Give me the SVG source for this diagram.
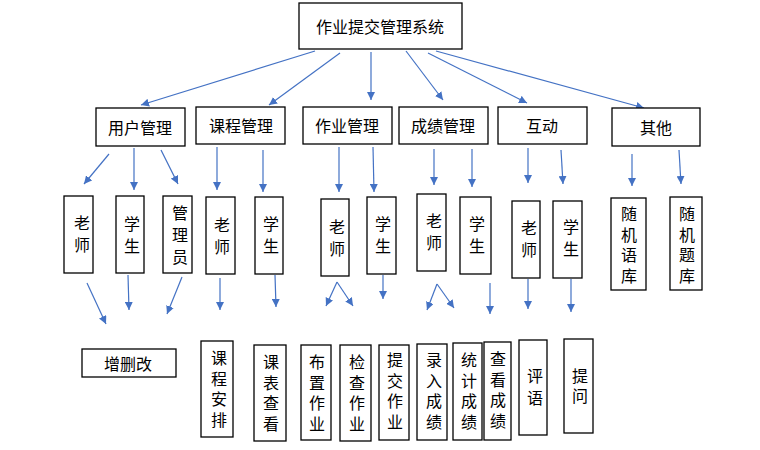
<svg xmlns="http://www.w3.org/2000/svg" width="760" height="450" viewBox="0 0 760 450">
<defs>
<marker id="ah" viewBox="0 0 10 10" refX="10" refY="5" markerWidth="8" markerHeight="8" markerUnits="userSpaceOnUse" orient="auto"><path d="M0,0 L10,5 L0,10 z" fill="#4472C4"/></marker>
<style>
rect{fill:#fff;stroke:#000;stroke-width:1.3}
text{font-family:"Noto Sans CJK SC","Noto Sans",sans-serif;font-size:16px;fill:#000;text-anchor:middle;dominant-baseline:central}
text.v{writing-mode:vertical-rl;letter-spacing:4.5px}
text.v2{writing-mode:vertical-rl;letter-spacing:6px}
#connectors line{stroke:#4472C4;stroke-width:1.2;marker-end:url(#ah)}
</style>
</defs>
<rect x="0" y="0" width="760" height="450" style="fill:#fff;stroke:none"/>
<g id="connectors">
<line x1="315" y1="51" x2="141" y2="105"/>
<line x1="340" y1="53" x2="269" y2="105"/>
<line x1="371" y1="52" x2="371" y2="100"/>
<line x1="406" y1="51" x2="443" y2="100"/>
<line x1="428" y1="53" x2="527" y2="103"/>
<line x1="436" y1="51" x2="644" y2="108"/>
<line x1="109" y1="154" x2="84" y2="184"/>
<line x1="134" y1="148" x2="134" y2="190"/>
<line x1="161" y1="150" x2="178" y2="184"/>
<line x1="217" y1="147" x2="217" y2="190"/>
<line x1="263" y1="150" x2="263" y2="192"/>
<line x1="339" y1="147" x2="339" y2="192"/>
<line x1="373" y1="147" x2="374" y2="192"/>
<line x1="434" y1="149" x2="434" y2="185"/>
<line x1="472" y1="149" x2="472" y2="187"/>
<line x1="528" y1="148" x2="528" y2="183"/>
<line x1="561" y1="150" x2="563" y2="184"/>
<line x1="632" y1="154" x2="632" y2="186"/>
<line x1="679" y1="150" x2="681" y2="184"/>
<line x1="87" y1="283" x2="106" y2="324"/>
<line x1="128" y1="275" x2="129" y2="310"/>
<line x1="182" y1="277" x2="167" y2="314"/>
<line x1="220" y1="278" x2="220" y2="310"/>
<line x1="275" y1="275" x2="276" y2="307"/>
<line x1="337" y1="282" x2="326" y2="306"/>
<line x1="337" y1="282" x2="353" y2="306"/>
<line x1="383" y1="275" x2="383" y2="299"/>
<line x1="437" y1="284" x2="427" y2="310"/>
<line x1="437" y1="284" x2="454" y2="308"/>
<line x1="490" y1="283" x2="490" y2="314"/>
<line x1="528" y1="279" x2="528" y2="309"/>
<line x1="571" y1="279" x2="571" y2="312"/>
</g>
<g id="root"><rect x="299" y="3" width="163" height="46"/><text x="380" y="26">作业提交管理系统</text></g>
<g id="user"><rect x="96" y="108" width="89" height="38"/><text x="140" y="127">用户管理</text></g>
<g id="course"><rect x="196" y="107" width="89" height="37"/><text x="241" y="125">课程管理</text></g>
<g id="homework"><rect x="303" y="107" width="89" height="37"/><text x="347" y="125">作业管理</text></g>
<g id="grade"><rect x="399" y="107" width="89" height="37"/><text x="443" y="125">成绩管理</text></g>
<g id="interact"><rect x="498" y="107" width="89" height="37"/><text x="542" y="125">互动</text></g>
<g id="other"><rect x="612" y="108" width="88" height="38"/><text x="656" y="127">其他</text></g>

<g id="user-teacher"><rect x="64" y="196" width="29" height="77"/><text class="v2" x="82" y="237">老师</text></g>
<g id="user-student"><rect x="116" y="196" width="28" height="77"/><text class="v2" x="132" y="238">学生</text></g>
<g id="user-admin"><rect x="163" y="196" width="29" height="77"/><text class="v2" x="180" y="238">管理员</text></g>
<g id="course-teacher"><rect x="206" y="197" width="29" height="77"/><text class="v2" x="222" y="239">老师</text></g>
<g id="course-student"><rect x="255" y="197" width="28" height="77"/><text class="v2" x="271" y="238">学生</text></g>
<g id="hw-teacher"><rect x="321" y="199" width="28" height="77"/><text class="v2" x="337" y="241">老师</text></g>
<g id="hw-student"><rect x="367" y="197" width="29" height="77"/><text class="v2" x="383" y="238">学生</text></g>
<g id="grade-teacher"><rect x="417" y="194" width="29" height="77"/><text class="v2" x="434" y="235">老师</text></g>
<g id="grade-student"><rect x="460" y="197" width="31" height="77"/><text class="v2" x="477" y="238">学生</text></g>
<g id="int-teacher"><rect x="512" y="201" width="28" height="77"/><text class="v2" x="529" y="242">老师</text></g>
<g id="int-student"><rect x="553" y="201" width="29" height="77"/><text class="v2" x="571" y="241">学生</text></g>
<g id="rand-lang"><rect x="611" y="198" width="35" height="92"/><text class="v" x="629" y="247">随机语库</text></g>
<g id="rand-question"><rect x="670" y="197" width="32" height="93"/><text class="v" x="687" y="247">随机题库</text></g>

<g id="crud"><rect x="82" y="349" width="94" height="28"/><text x="128" y="363">增删改</text></g>
<g id="course-plan"><rect x="201" y="341" width="32" height="96"/><text class="v" x="219" y="391">课程安排</text></g>
<g id="timetable"><rect x="254" y="345" width="32" height="96"/><text class="v" x="271" y="395">课表查看</text></g>
<g id="assign"><rect x="301" y="345" width="30" height="95"/><text class="v" x="317" y="395">布置作业</text></g>
<g id="check"><rect x="340" y="345" width="31" height="96"/><text class="v" x="357" y="395">检查作业</text></g>
<g id="submit"><rect x="379" y="345" width="30" height="95"/><text class="v" x="395" y="393">提交作业</text></g>
<g id="enter"><rect x="417" y="344" width="30" height="96"/><text class="v" x="434" y="393">录入成绩</text></g>
<g id="stats"><rect x="453" y="343" width="29" height="97"/><text class="v" x="469" y="393">统计成绩</text></g>
<g id="view"><rect x="484" y="342" width="27" height="98"/><text class="v" x="498" y="392">查看成绩</text></g>
<g id="comment"><rect x="519" y="340" width="28" height="95"/><text class="v2" x="535" y="390">评语</text></g>
<g id="ask"><rect x="564" y="339" width="29" height="94"/><text class="v" x="580" y="388">提问</text></g>
</svg>
